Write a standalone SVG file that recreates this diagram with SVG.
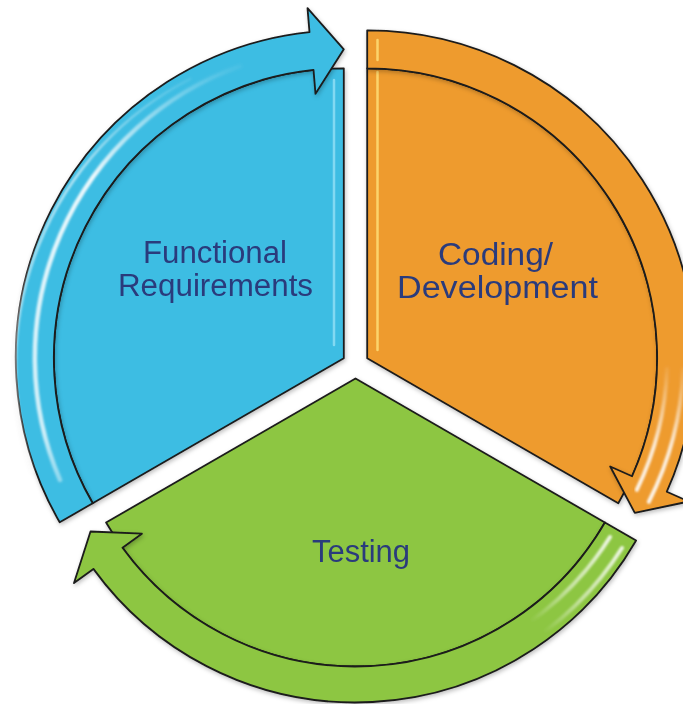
<svg xmlns="http://www.w3.org/2000/svg" width="683" height="704" viewBox="0 0 683 704">
  <defs>
    <filter id="sh" x="-10%" y="-10%" width="120%" height="120%">
      <feDropShadow dx="1" dy="2" stdDeviation="2" flood-color="#000" flood-opacity="0.25"/>
    </filter>
    <filter id="soft" x="-5%" y="-5%" width="110%" height="110%">
      <feGaussianBlur stdDeviation="0.8"/>
    </filter>
    <linearGradient id="gBlueStripe" gradientUnits="userSpaceOnUse" x1="0" y1="60" x2="0" y2="525">
      <stop offset="0" stop-color="#fff" stop-opacity="0"/>
      <stop offset="0.25" stop-color="#fff" stop-opacity="0.9"/>
      <stop offset="0.8" stop-color="#fff" stop-opacity="0.75"/>
      <stop offset="1" stop-color="#fff" stop-opacity="0.1"/>
    </linearGradient>
    <linearGradient id="gOrangeStripe" gradientUnits="userSpaceOnUse" x1="0" y1="360" x2="0" y2="505">
      <stop offset="0" stop-color="#fff" stop-opacity="0"/>
      <stop offset="0.6" stop-color="#fff" stop-opacity="0.8"/>
      <stop offset="1" stop-color="#fff" stop-opacity="0.9"/>
    </linearGradient>
    <linearGradient id="gGreenStripe" gradientUnits="userSpaceOnUse" x1="620" y1="535" x2="540" y2="630">
      <stop offset="0" stop-color="#fff" stop-opacity="0.9"/>
      <stop offset="0.6" stop-color="#fff" stop-opacity="0.5"/>
      <stop offset="1" stop-color="#fff" stop-opacity="0"/>
    </linearGradient>
    <style>
      .edge { stroke: #1b1b1b; stroke-width: 1.8; stroke-linejoin: round; }
      .blue { fill: #3EBDE3; }
      .orange { fill: #EE9B2F; }
      .green { fill: #8DC642; }
      .lbl { font-family: "Liberation Sans", Arial, sans-serif; font-size: 31px; fill: #2A3B7C; text-anchor: middle; }
      .stripe { fill: none; stroke-linecap: round; }
      .bevel { fill: none; stroke-width: 2.5; stroke-linecap: round; }
    </style>
  </defs>

  <g id="functional-requirements" filter="url(#sh)">
    <path class="blue edge" d="M343.8,358.3 L92.7,503.3 A290,290 0 0 1 343.8,68.3 Z"/>
    <path class="bevel" stroke="#9FE6F8" stroke-opacity="0.7" d="M334,80 L334,345"/>
    <text class="lbl" x="215" y="263" textLength="144" lengthAdjust="spacingAndGlyphs">Functional</text>
    <text class="lbl" x="215.5" y="296" textLength="195" lengthAdjust="spacingAndGlyphs">Requirements</text>
  </g>

  <g id="coding-development" filter="url(#sh)">
    <path class="orange edge" d="M367.2,358.3 L367.2,68.3 A290,290 0 0 1 618.3,503.3 Z"/>
    <path class="bevel" stroke="#FFE27A" stroke-opacity="0.8" d="M377.5,72 L377.5,350"/>
    <text class="lbl" x="495.5" y="265" textLength="115" lengthAdjust="spacingAndGlyphs">Coding/</text>
    <text class="lbl" x="497.5" y="298" textLength="201" lengthAdjust="spacingAndGlyphs">Development</text>
  </g>

  <g id="testing" filter="url(#sh)">
    <path class="green edge" d="M355.5,378.5 L604.9,522.5 A288,288 0 0 1 106.1,522.5 Z"/>
    <text class="lbl" x="361" y="562" textLength="98" lengthAdjust="spacingAndGlyphs">Testing</text>
  </g>

  <g id="connectors" filter="url(#sh)">
    <g id="arrow-requirements-to-coding">
      <path class="blue edge" d="M59.7,522.3 A328,328 0 0 1 309.5,32.1 L307.5,8.2 L343.8,49.3 L315.5,93.8 L313.5,69.9 A290,290 0 0 0 92.7,503.3 Z"/>
      <g filter="url(#soft)">
        <path class="stripe" stroke="url(#gBlueStripe)" stroke-width="4.5" d="M60,480 A310,310 0 0 1 240,66"/>
        <path class="stripe" stroke="url(#gBlueStripe)" stroke-width="2.5" stroke-opacity="0.7" d="M33,470 A322,322 0 0 1 190,79"/>
      </g>
    </g>
    <g id="arrow-coding-to-testing">
      <path class="orange edge" d="M367.2,30.3 A328,328 0 0 1 666.8,491.7 L688.8,501.5 L634.8,512.8 L610.2,466.5 L632.1,476.2 A290,290 0 0 0 367.2,68.3 Z"/>
      <g filter="url(#soft)">
        <path class="stripe" stroke="url(#gOrangeStripe)" stroke-width="4" d="M667,368.8 A300,300 0 0 1 636.8,489.8"/>
        <path class="stripe" stroke="url(#gOrangeStripe)" stroke-width="4" d="M683,369.3 A316,316 0 0 1 648.8,501.8"/>
      </g>
      <path class="bevel" stroke="#FFE27A" stroke-opacity="0.8" d="M377.5,40 L377.5,60"/>
    </g>
    <g id="arrow-testing-to-requirements">
      <path class="green edge" d="M636.1,540.5 A324,324 0 0 1 93.4,568.9 L74,583.1 L90.5,531.5 L141.9,533.7 L122.5,547.8 A288,288 0 0 0 604.9,522.5 Z"/>
      <g filter="url(#soft)">
        <path class="stripe" stroke="url(#gGreenStripe)" stroke-width="4" d="M610,537 A300,300 0 0 1 527,624"/>
        <path class="stripe" stroke="url(#gGreenStripe)" stroke-width="4" d="M622,548 A316,316 0 0 1 536,638"/>
      </g>
    </g>
  </g>
</svg>
